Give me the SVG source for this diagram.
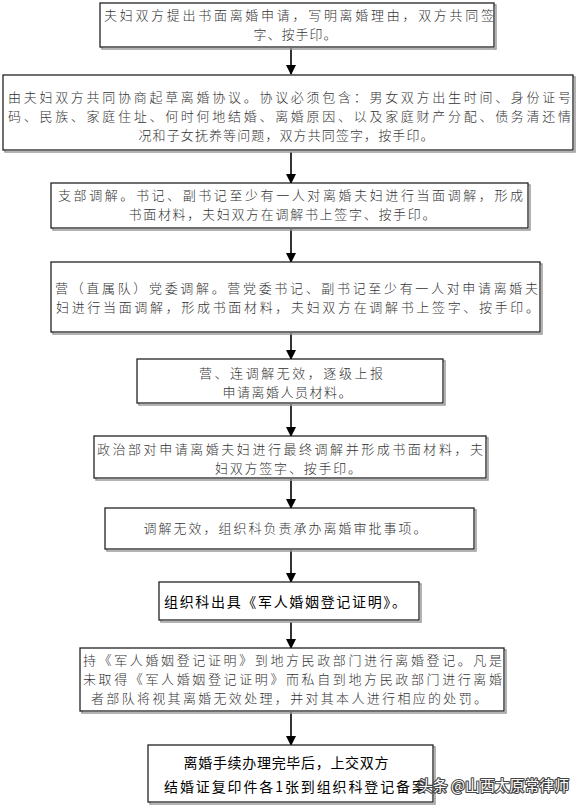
<svg xmlns="http://www.w3.org/2000/svg" width="580" height="805" viewBox="0 0 580 805">
<defs>
<marker id="arr" markerWidth="10" markerHeight="12" refX="9" refY="5" orient="auto" markerUnits="userSpaceOnUse" viewBox="0 0 10 10">
<path d="M0,0 L10,5 L0,10 z" fill="#000"/>
</marker>
</defs>
<style>
.box{fill:#fff;stroke:#222;stroke-width:1.3}
.sh{fill:none;stroke:#9a9a9a;stroke-width:1.5}
.t{font-family:"Noto Sans CJK SC","Noto Sans CJK JP",sans-serif;font-size:13px;font-weight:300;fill:#333}
.b{font-family:"Noto Sans CJK SC","Noto Sans CJK JP",sans-serif;font-size:14px;font-weight:400;fill:#000}
.c{text-anchor:middle}
.ln{stroke:#000;stroke-width:1.6;fill:none;marker-end:url(#arr)}
.wm{font-family:"Noto Sans CJK SC",sans-serif;font-size:15px;fill:#fff;stroke:#444;stroke-width:2.2;paint-order:stroke;stroke-linejoin:round}
</style>
<rect width="580" height="805" fill="#fff"/>
<g id="connectors">
<line class="ln" x1="291" y1="48" x2="291" y2="74"/>
<line class="ln" x1="291" y1="152" x2="291" y2="183"/>
<line class="ln" x1="291" y1="229" x2="291" y2="262"/>
<line class="ln" x1="291" y1="333" x2="291" y2="359"/>
<line class="ln" x1="291" y1="404" x2="291" y2="436"/>
<line class="ln" x1="291" y1="479" x2="291" y2="508"/>
<line class="ln" x1="291" y1="550" x2="291" y2="582"/>
<line class="ln" x1="291" y1="622" x2="291" y2="648"/>
<line class="ln" x1="291" y1="712" x2="291" y2="745"/>
</g>
<g id="n1">
<rect class="sh" x="102" y="5" width="394" height="44"/>
<rect class="box" x="100" y="3" width="394" height="44"/>
<text class="t" x="104" y="20" textLength="390" lengthAdjust="spacing">夫妇双方提出书面离婚申请，写明离婚理由，双方共同签</text>
<text class="t c" x="295" y="39" textLength="83" lengthAdjust="spacing">字、按手印。</text>
</g>
<g id="n2">
<rect class="sh" x="5" y="77" width="570" height="75"/>
<rect class="box" x="3" y="75" width="570" height="75"/>
<text class="t" x="8" y="102" textLength="563" lengthAdjust="spacing">由夫妇双方共同协商起草离婚协议。协议必须包含：男女双方出生时间、身份证号</text>
<text class="t" x="8" y="121" textLength="563" lengthAdjust="spacing">码、民族、家庭住址、何时何地结婚、离婚原因、以及家庭财产分配、债务清还情</text>
<text class="t c" x="286" y="140" textLength="295" lengthAdjust="spacing">况和子女抚养等问题，双方共同签字，按手印。</text>
</g>
<g id="n3">
<rect class="sh" x="53" y="185" width="477" height="45"/>
<rect class="box" x="51" y="183" width="477" height="45"/>
<text class="t" x="58" y="200" textLength="465" lengthAdjust="spacing">支部调解。书记、副书记至少有一人对离婚夫妇进行当面调解，形成</text>
<text class="t c" x="282" y="219" textLength="307" lengthAdjust="spacing">书面材料，夫妇双方在调解书上签字、按手印。</text>
</g>
<g id="n4">
<rect class="sh" x="53" y="264" width="489" height="70"/>
<rect class="box" x="51" y="262" width="489" height="70"/>
<text class="t" x="55" y="293" textLength="483" lengthAdjust="spacing">营（直属队）党委调解。营党委书记、副书记至少有一人对申请离婚夫</text>
<text class="t" x="56" y="312" textLength="483" lengthAdjust="spacing">妇进行当面调解，形成书面材料，夫妇双方在调解书上签字、按手印。</text>
</g>
<g id="n5">
<rect class="sh" x="139" y="361" width="306" height="44"/>
<rect class="box" x="137" y="359" width="306" height="44"/>
<text class="t c" x="291" y="378" textLength="184" lengthAdjust="spacing">营、连调解无效，逐级上报</text>
<text class="t c" x="287" y="397" textLength="129" lengthAdjust="spacing">申请离婚人员材料。</text>
</g>
<g id="n6">
<rect class="sh" x="96" y="438" width="392" height="42"/>
<rect class="box" x="94" y="436" width="392" height="42"/>
<text class="t" x="97" y="454" textLength="386" lengthAdjust="spacing">政治部对申请离婚夫妇进行最终调解并形成书面材料，夫</text>
<text class="t c" x="288" y="473" textLength="146" lengthAdjust="spacing">妇双方签字、按手印。</text>
</g>
<g id="n7">
<rect class="sh" x="107" y="510" width="369" height="41"/>
<rect class="box" x="105" y="508" width="369" height="41"/>
<text class="t c" x="285" y="533" textLength="283" lengthAdjust="spacing">调解无效，组织科负责承办离婚审批事项。</text>
</g>
<g id="n8">
<rect class="sh" x="161" y="584" width="260" height="38"/>
<rect class="box" x="159" y="582" width="260" height="38"/>
<text class="b" x="164" y="607" textLength="242" lengthAdjust="spacing">组织科出具《军人婚姻登记证明》。</text>
</g>
<g id="n9">
<rect class="sh" x="82" y="650" width="424" height="63"/>
<rect class="box" x="80" y="648" width="424" height="63"/>
<text class="t" x="83" y="665" textLength="419" lengthAdjust="spacing">持《军人婚姻登记证明》到地方民政部门进行离婚登记。凡是</text>
<text class="t" x="83" y="684" textLength="419" lengthAdjust="spacing">未取得《军人婚姻登记证明》而私自到地方民政部门进行离婚</text>
<text class="t c" x="289" y="703" textLength="396" lengthAdjust="spacing">者部队将视其离婚无效处理，并对其本人进行相应的处罚。</text>
</g>
<g id="n10">
<rect class="sh" x="150" y="747" width="285" height="57"/>
<rect class="box" x="148" y="745" width="285" height="57"/>
<text class="b c" x="286" y="768" textLength="205" lengthAdjust="spacing">离婚手续办理完毕后，上交双方</text>
<text class="b" x="164" y="792" textLength="262" lengthAdjust="spacing">结婚证复印件各1张到组织科登记备案</text>
</g>
<text class="wm" x="418" y="791" textLength="151" lengthAdjust="spacingAndGlyphs">头条 @山西太原常律师</text>
</svg>
